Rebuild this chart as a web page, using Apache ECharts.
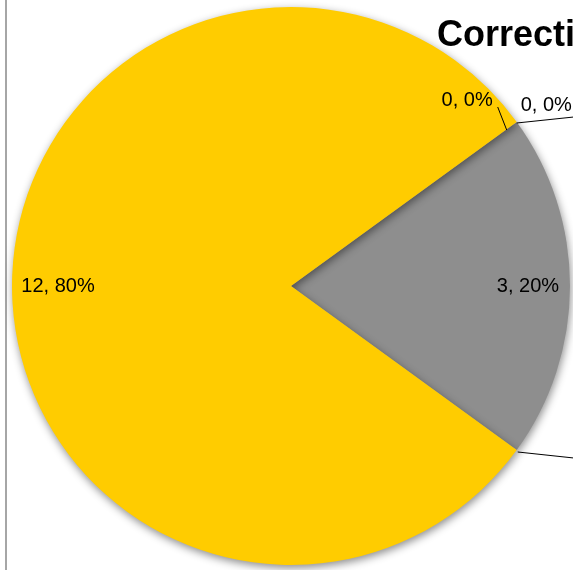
<!DOCTYPE html>
<html>
<head>
<meta charset="utf-8">
<script src="https://cdn.jsdelivr.net/npm/echarts@6/dist/echarts.min.js"></script>
<style>
html,body{margin:0;padding:0;background:#fff;}
#chart{width:573px;height:570px;}
</style>
</head>
<body>
<div id="chart"></div>
<script>
// Data (slice order clockwise starting at the upper-right boundary)
const categories = ['Category A', 'Category B', 'Category C', 'Category D', 'Category E'];
const values = [0, 0, 3, 0, 12];
const colors = ['#4F81BD', '#C0504D', '#8E8E8E', '#9BBB59', '#FFCC00'];
const titleText = 'Corrective Actions';

const FONT = 'Liberation Sans, Arial, sans-serif';

// leader-line / label offsets (style only) relative to each zero slice's edge point
const zeroLabelStyle = {
  0: { line: [[-10, 8], [-19, -15]], label: [-24, -22], align: 'right' },
  1: { line: [[0, 1], [57, -5]], label: [4, -17], align: 'left' },
  3: { line: [[1, 2], [57, 8]], label: [60, 4], align: 'left' }
};

const mainData = categories.map((name, i) => ({
  name,
  value: values[i],
  itemStyle: { color: colors[i] }
}));

const labelData = categories.map((name, i) => ({
  name,
  value: values[i],
  itemStyle: { color: 'rgba(0,0,0,0)' },
  label: values[i] > 0
    ? { position: 'inside', padding: i === 4 ? [3, 0, 0, 8] : [3, 0, 0, 0] }
    : { position: 'outside', overflow: 'none' }
}));

const chart = echarts.init(document.getElementById('chart'));
chart.setOption({
  animation: false,
  title: {
    text: titleText,
    left: 432,
    top: 13,
    textStyle: { fontFamily: FONT, fontSize: 36, fontWeight: 'bold', color: '#000' }
  },
  graphic: [{
    id: 'border',
    type: 'rect',
    shape: { x: 5, y: 0, width: 2, height: 570 },
    style: { fill: '#a6a6a6' },
    silent: true
  }],
  series: [{
    type: 'pie',
    center: [291, 286],
    radius: [0, 279],
    startAngle: 36,
    clockwise: true,
    silent: true,
    data: mainData,
    itemStyle: {
      shadowBlur: 8,
      shadowOffsetX: 1,
      shadowOffsetY: 3,
      shadowColor: 'rgba(0,0,0,0.45)'
    },
    label: { show: false },
    labelLine: { show: false },
    emphasis: { disabled: true }
  }, {
    type: 'pie',
    center: [291, 286],
    radius: [189, 279],
    startAngle: 36,
    clockwise: true,
    silent: true,
    avoidLabelOverlap: false,
    data: labelData,
    label: {
      show: true,
      formatter: '{c}, {d}%',
      fontFamily: FONT,
      fontSize: 20,
      color: '#000'
    },
    labelLine: { show: false, length: 4, length2: 8 },
    labelLayout: function (params) {
      const s = zeroLabelStyle[params.dataIndex];
      if (!s || !params.labelLinePoints) return {};
      const p0 = params.labelLinePoints[0];
      return {
        x: p0[0] + s.label[0],
        y: p0[1] + s.label[1],
        align: s.align,
        verticalAlign: 'middle'
      };
    },
    emphasis: { disabled: true }
  }]
});

// Leader lines for the zero slices, anchored on the library's own slice layout
const seriesData = chart.getModel().getSeriesByIndex(0).getData();
const leaderLines = [];
Object.keys(zeroLabelStyle).forEach(k => {
  const idx = +k;
  const lay = seriesData.getItemLayout(idx);
  if (!lay) return;
  const ang = (lay.startAngle + lay.endAngle) / 2;
  const px = lay.cx + lay.r * Math.cos(ang);
  const py = lay.cy + lay.r * Math.sin(ang);
  const s = zeroLabelStyle[idx];
  leaderLines.push({
    id: 'leader' + idx,
    type: 'polyline',
    z: 100,
    silent: true,
    shape: { points: s.line.map(o => [px + o[0], py + o[1]]) },
    style: { stroke: '#000', lineWidth: 1, fill: null }
  });
});
chart.setOption({ graphic: leaderLines });
</script>
</body>
</html>
